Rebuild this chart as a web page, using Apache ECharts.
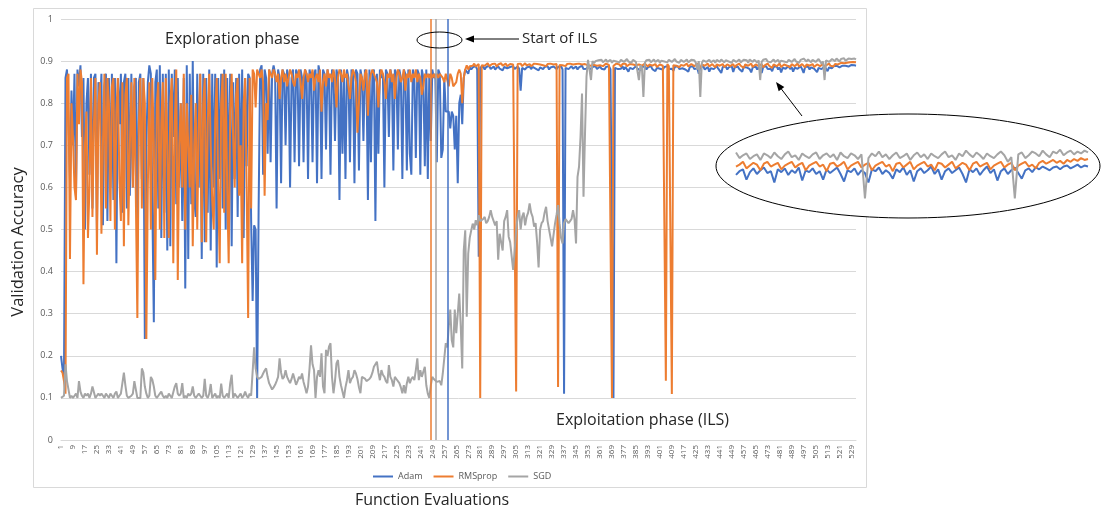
<!DOCTYPE html>
<html><head><meta charset="utf-8">
<script src="https://cdn.jsdelivr.net/npm/echarts@6/dist/echarts.min.js"></script>
<style>html,body{margin:0;padding:0;background:#fff}#c{width:1103px;height:508px}</style>
</head><body><div id="c"></div>
<script>
// Category labels: function evaluations 1..532
const categories = Array.from({length: 532}, (_, i) => String(i + 1));

// Validation accuracy, in percent
const adam = [
20,17,15,86,88,88,62,83,70,87,
58,88,84,89,72,86,50,80,86,63,
87,55,86,87,50,85,78,87,51,84,
87,52,86,60,87,57,86,42,86,75,
87,54,85,87,55,86,58,87,60,84,
86,45,85,87,62,86,24,70,85,89,
87,56,28,85,88,55,89,48,87,54,
87,45,88,46,87,72,88,56,86,60,
80,52,86,36,89,43,87,56,90,57,
53,87,60,87,43,87,47,86,54,88,
45,87,60,87,41,86,62,87,55,88,
50,86,58,87,46,85,62,86,53,87,
60,88,48,86,65,87,86,52,33,51,
50,10,55,88,
89,63,88,86,68,88,66,87,89,87,
55,88,86,61,88,87,70,88,86,60,
86,88,66,88,87,65,88,86,66,88,
87,62,88,86,66,87,88,61,89,87,
62,88,87,69,88,86,63,88,87,71,
88,86,57,88,68,87,62,88,86,66,
88,87,61,88,87,64,88,86,71,88,
87,57,88,66,87,88,52,87,68,88,
86,87,60,88,87,72,88,86,64,88,
87,69,88,86,62,88,87,64,88,68,
63,88,86,67,88,87,63,88,86,65,
88,62,87,71,88,86,87,66,88,87,
67,69,86,78,78,
78,74,78,77,69,77,61,80,82,75,86,88,88,87,
88.5,88,88.5,88.2,88.8,88,43.5,88.5,88.2,88.7,
88,88.6,88.3,88.9,88.1,88.5,88.7,88,88.4,88.8,
88.2,88.5,87.8,88.6,88.9,88.3,88,88.6,88.4,88.8,
88.1,88.5,88.7,88.2,83,88.4,88.8,88,88.5,88.3,
88.7,88.1,88.6,88.9,88.2,88.4,87.8,88.5,88.7,88.1,
88.6,88.3,88.8,88,88.5,88.2,88.7,88.4,88.1,88.6,
88.3,88.8,88,11,88.4,88.6,88.1,88.5,88.8,88.2,
88.4,88.7,88,88.5,88.3,88.9,88.1,88.5,88.2,88.7,
88.4,88,88.6,88.3,88.8,88.1,88.5,88.7,88.2,88.4,
88,88.6,88.3,88.8,88.1,88.5,10,88.4,88.7,88.1,
88.5,88.2,88.8,88,88.6,88.3,87.5,88.4,88.7,88.1,
88.5,88.8,88.2,88.4,87.8,88.6,88.3,88.7,88,88.5,
88.2,88.8,88.1,88.5,87.6,88.4,88.7,88.2,88.5,88,
88.6,88.3,88.8,88.1,88.5,88.2,87.7,88.6,88.3,88.8,
88.1,88.5,88.3,88.7,88,88.4,87.5,88.6,88.2,88.8,
88.1,88.5,88.3,87,88.6,88.2,88.7,88,88.4,88.6,
87.5,88.3,88.7,88.1,88.5,88.8,88.2,88.4,87.2,88.6,
88.3,88.7,88,88.5,88.2,88.8,87.4,88.5,88.3,88.7,
88.1,88.4,87.5,88.6,88.2,88.5,88.8,88.1,87.3,88.5,
88.3,88.7,88,88.5,88.2,87.2,88.6,88.4,88.8,88.1,
88.5,88.2,87.6,88.6,88.3,88.8,88,88.5,87.3,88.4,
88.7,88.2,88.5,88.9,88.1,88.6,87.5,88.4,88.7,88.2,
88.5,88.8,88.1,87.2,88.6,88.3,88.7,88,88.5,88.9,
88.2,88.6,87.4,88.4,88.7,88.1,88.5,88.8,88.2,87.6,
88.5,88.7,88.3,88.8,88.6,88.9,88.7,88.5,88.8,88.9,
88.6,88.9,89,88.7,88.9,89.1,88.8,89,88.9
];

const rmsprop = [
16.5,16,14,11,86,87,43,80,72,60,
57,87,75,88,85,37,70,78,48,60,
86,53,75,86,44,80,85,49,70,87,
55,86,80,52,84,86,50,78,86,62,
52,85,46,82,86,51,70,85,60,86,
86,29,75,86,55,86,80,24,60,85,
50,86,70,38,80,85,50,75,85,48,
86,70,48,80,86,42,75,88,38,70,
80,60,87,50,80,80,60,82,46,70,
80,50,75,87,47,80,86,47,75,87,
70,57,50,76,86,60,42,80,87,54,
87,60,42,78,87,72,60,82,86,58,
70,42,80,86,60,29,86,55,88,87,
79,
88,87,86,88,85,58,80,76,88,87,
86,88,87,85,87,81,86,88,85,87,
84,86,88,87,85,84,87,86,88,85,
81,86,88,87,85,87,86,88,83,86,
87,85,88,78,85,87,84,88,86,87,
85,88,86,79,86,88,87,85,88,86,
87,84,81,86,88,87,85,73,80,87,
86,83,87,88,77,85,87,88,88,86,
85,79,86,88,87,85,81,87,86,88,
85,87,81,86,88,87,85,86,88,83,
87,86,88,85,87,86,88,85,87,86,
82,84,87,86,87,86,87,86,87,86,
87,86,87,87,86,85,87,87,
84,87,86,84,84,85,87,88,87,80,86,88,89,88,
88.8,89.2,88.9,89.4,88.7,89.1,89.3,10,89,89.4,
88.9,89.2,89.5,88.8,89.1,89.3,89,89.4,88.7,89.2,
89,89.5,88.9,89.2,89.4,88.8,89.1,89.3,89,89.2,
88.9,11.5,89.3,89,89.4,88.8,89.2,89.5,89,89.1,
89.3,88.8,89.2,89.4,89,89.3,88.9,89.2,89.5,89,
89.2,88.8,89.3,89.1,89.4,89,89.2,88.9,89.3,12.6,
89.1,89.4,89,89.2,88.8,89.3,89.1,89.4,89,89.2,
88.9,89.3,89.1,89.4,89,89.2,88.8,89.3,89.5,89,
89.2,88.9,89.3,89.1,89.4,88.9,89.2,89,89.3,88.8,
89.2,89.4,89,89.1,89.3,10,88.9,89.2,89.4,89,
89.2,88.7,89.3,89,89.4,88.8,89.1,89.3,88.9,89.2,
89.4,89,88.6,89.2,89.3,88.9,89.1,89.4,89,88.7,
89.2,89.4,88.9,89.1,89.3,88.6,89,89.2,89.4,88.9,
89.1,14.1,89.3,88.8,89.2,10.9,89,89.4,88.9,89.2,
88.5,89.1,89.3,88.9,89.2,89.4,88.7,89,89.3,89.1,
88.8,89.2,89.4,89,88.4,89.2,89.3,88.9,89.1,89.4,
88.7,89,89.3,89.1,88.5,89.2,89.4,88.9,89.1,89.3,
88.6,89,89.2,89.4,88.8,89.1,89.3,88.5,89,89.2,
89.4,88.9,89.1,88.4,89.2,89.3,88.9,89.1,89.4,88.6,
89,89.2,89.4,88.8,89.1,89.3,88.5,89,89.2,89.4,
88.9,89.1,88.4,89.2,89.3,88.8,89.1,89.4,88.6,89,
89.2,89.4,88.9,89.1,88.5,89.3,89.2,88.8,89.1,89.4,
88.7,89,89.3,89.1,88.5,89.2,89.4,88.9,89.1,89.3,
88.6,89,89.2,89.4,88.8,89.1,89.3,88.5,89,89.2,
89.4,88.9,89.1,88.7,89.3,89.5,89.2,89.4,89.6,89.3,
89.5,89.2,89.6,89.4,89.7,89.5,89.8,89.6,89.7
];

const sgd = [
10,10,10.5,18,14,14,10,10.5,10,10.5,
11,10,14,11.5,10.5,10,11,10.5,11,10,
11,12.7,12.5,10,10.5,11,10.5,11,10.5,10,
11,10.5,10,11,10.5,10,11,11.5,10,10.5,
11,11,16,13,10.5,10,10,10.5,11,14,
13.8,10,10,10,17,16,12.7,11,10,10.5,
15,14.3,12.7,10.5,10,10.5,11,11.5,10.5,10,
10.5,10,11,10.5,10,10,12.7,13.5,11,10.5,
11,13.5,10,10.5,10,11,10.5,11,12.7,10.5,
10,10.5,11,10.5,10,10.5,14.5,10.5,10,11,
13.3,10,10.5,11,10,10.5,10,13.4,10.5,10,
10.5,11,10,13.4,15.5,10,11,10.5,10,10.5,
11,10,10.5,11.5,10.5,10,11,10.5,10.5,
22,17,15,14.5,14.2,15,15.8,16.5,17,15,
13.5,13.5,12,12.5,13.1,14,15,19.4,16,14.5,
15,16.6,15,14.2,13.5,14.5,15.8,14.5,13.1,14,
15,14.5,15.8,13.8,12.5,11.1,12.7,17,22.5,18,
16.6,10,15,16.6,15,20.6,12.7,11.1,21.4,20,
22.2,23,15,11.1,14,18.2,19,15,13,11.5,
10,12.5,14.2,16.6,13.5,14.5,15,16.6,15.8,14.5,
12.5,11.1,15,14.8,14.6,14,13.8,14.5,15,16,
17.4,17,18.6,16,14.2,16.6,15.5,15,14,13.5,
17.8,15,14.2,12.7,15,14.5,14.2,13.5,12.5,11.1,
13,11.1,13.5,15,13.5,14.5,15,14.2,16.6,19.4,
14.2,16.6,15,15,17.4,13,11,10,13,15,
14.5,14.2,13.8,13.5,14,13,15.8,16,23,22,
27,31,23.7,22,31,25.4,30,34.8,27,17,
45,49.8,29.3,44.3,48,49.8,51.4,50,52.2,51,
53.4,52,51.8,52.5,53,51.5,52,53,54.6,53,
52,51,52,42.8,49,47,45,52,53,54.6,
48.3,47,46.7,40.4,45,49.8,53,54.6,50,53,
54,51,53,54,56.2,54,53,50.7,51.5,47,
41,50,51.5,52,54,55.4,52,50,48,46,
45.9,51.5,53.5,55.8,51.5,48,46.7,51.5,52.5,52,
51.5,52,52.5,54.6,52.5,46.7,62.5,64.9,72,82.3,
57.8,72.8,86.3,90.3,88,85.5,90,89.5,
90,89.6,90.2,89.8,90.3,89.7,90.1,90.4,89.8,90,
90.3,89.6,90.1,90.4,89.9,90.2,89.7,90.3,90,89.8,
90.2,90.5,89.9,90.1,89.6,90.3,90,89.8,90.2,85.5,
89,88.5,81.5,89.6,90.2,89.9,90.3,89.7,90.1,90.4,
89.8,90,90.3,89.6,90.1,90.4,89.9,90.2,89.7,90.3,
90,89.8,90.2,90.5,89.9,90.1,89.6,90.3,90,89.8,
90.2,90.4,89.7,90.1,90.3,89.9,90.2,89.6,88,90,
81.5,89.5,90.2,90.4,89.8,90.1,90.3,89.7,90,90.2,
89.6,90.3,90.1,89.8,90.4,90,89.7,90.2,90.5,89.9,
90.1,89.6,90.3,90,89.8,90.2,90.4,89.7,90.1,90.3,
89.9,90.2,89.6,90.4,90,89.8,90.3,90.1,89.7,90.2,
85.5,89.8,90.3,90,90.5,89.9,90.2,89.7,90.1,90.4,
89.8,90,90.3,89.6,90.1,90.4,89.9,90.2,89.7,90.3,
90,89.8,90.2,90.5,89.9,90.1,89.6,90.3,90,90.6,
90.2,89.9,90.4,90.1,89.7,90.3,90,89.8,90.2,90.5,
90.1,89.4,89.9,85.5,90.2,90.4,89.8,90.1,90.5,90.3,
90,90.6,90.2,89.9,90.5,90.3,90.7,90.1,90.4,90.6,
90.2,90.5,90.3,90.6,90.4
];

const seriesNames = ['Adam', 'RMSprop', 'SGD'];
const seriesColors = ['#4472C4', '#ED7D31', '#A5A5A5'];
// Category at which each series' vertical marker line is drawn
const markerCategory = ['259', '248', '251'];
// First category index shown magnified in the inset
const insetStart = 430;

const allData = [adam, rmsprop, sgd].map(a => a.map(v => v / 100));

const FONT = '"Open Sans", "Noto Sans", sans-serif';
const chart = echarts.init(document.getElementById('c'), null, {renderer: 'canvas'});

const mainSeries = seriesNames.map((name, i) => ({
  name, type: 'line', xAxisIndex: 0, yAxisIndex: 0,
  data: allData[i], showSymbol: false, symbol: 'none',
  lineStyle: {width: 2, color: seriesColors[i]}, itemStyle: {color: seriesColors[i]},
  emphasis: {disabled: true}, z: 2,
  markLine: {
    silent: true, symbol: ['none', 'none'], label: {show: false},
    lineStyle: {color: seriesColors[i], width: 1.5, type: 'solid'},
    emphasis: {disabled: true},
    data: [{xAxis: markerCategory[i]}]
  }
}));
const insetSeries = seriesNames.map((name, i) => ({
  name, type: 'line', xAxisIndex: 1, yAxisIndex: 1,
  data: allData[i].slice(insetStart), showSymbol: false, symbol: 'none',
  lineStyle: {width: 2, color: seriesColors[i]}, itemStyle: {color: seriesColors[i]},
  emphasis: {disabled: true}, z: 10
}));

chart.setOption({
  animation: false,
  backgroundColor: '#fff',
  grid: [
    {left: 61, right: 247, top: 19, bottom: 68, containLabel: false, outerBoundsMode: 'none'},
    {left: 736, width: 352, top: 145, height: 58, containLabel: false, outerBoundsMode: 'none'}
  ],
  xAxis: [
    {type: 'category', gridIndex: 0, data: categories, boundaryGap: false,
     axisLine: {show: true, lineStyle: {color: '#d9d9d9', width: 1}},
     axisTick: {show: false},
     axisLabel: {interval: 7, rotate: 90, fontSize: 8, color: '#595959', margin: 5, fontFamily: FONT},
     splitLine: {show: false}},
    {type: 'category', gridIndex: 1, data: categories.slice(insetStart), boundaryGap: false, show: false}
  ],
  yAxis: [
    {type: 'value', gridIndex: 0, min: 0, max: 1, interval: 0.1,
     axisLine: {show: false}, axisTick: {show: false},
     axisLabel: {fontSize: 9, color: '#595959', margin: 8, fontFamily: FONT},
     splitLine: {show: true, lineStyle: {color: '#d9d9d9', width: 1}}},
    {type: 'value', gridIndex: 1, min: 0.85, max: 0.912, show: false, splitLine: {show: false}}
  ],
  legend: {
    data: seriesNames, left: 373, top: 472, padding: 0, icon: 'rect', itemWidth: 20, itemHeight: 2,
    itemGap: 11, textStyle: {fontSize: 9, color: '#595959', fontFamily: FONT}, selectedMode: false
  },
  tooltip: {show: false},
  series: mainSeries.concat(insetSeries),
  graphic: [
    {type: 'rect', silent: true, z: -10, shape: {x: 33.5, y: 8.5, width: 833, height: 479},
     style: {fill: 'none', stroke: '#d9d9d9', lineWidth: 1}},
    {type: 'text', silent: true, x: 165, y: 39, z: 20,
     style: {text: 'Exploration phase', font: '16px ' + FONT, fill: '#262626', align: 'left', verticalAlign: 'middle'}},
    {type: 'text', silent: true, x: 522, y: 39, z: 20,
     style: {text: 'Start of ILS', font: '15px ' + FONT, fill: '#262626', align: 'left', verticalAlign: 'middle'}},
    {type: 'text', silent: true, x: 556, y: 420, z: 20,
     style: {text: 'Exploitation phase (ILS)', font: '16px ' + FONT, fill: '#262626', align: 'left', verticalAlign: 'middle'}},
    {type: 'text', silent: true, x: 432, y: 500, z: 20,
     style: {text: 'Function Evaluations', font: '16px ' + FONT, fill: '#262626', align: 'center', verticalAlign: 'middle'}},
    {type: 'text', silent: true, x: 18.5, y: 242, rotation: Math.PI / 2, z: 20,
     style: {text: 'Validation Accuracy', font: '16.5px ' + FONT, fill: '#262626', align: 'center', verticalAlign: 'middle'}},
    {type: 'ellipse', silent: true, z: 20, shape: {cx: 439.5, cy: 40, rx: 22.5, ry: 8},
     style: {fill: 'none', stroke: '#000', lineWidth: 1}},
    {type: 'line', silent: true, z: 20, shape: {x1: 470, y1: 39, x2: 519, y2: 39},
     style: {stroke: '#000', lineWidth: 1}},
    {type: 'polygon', silent: true, z: 20, shape: {points: [[465, 39], [474, 35.5], [474, 42.5]]},
     style: {fill: '#000'}},
    {type: 'line', silent: true, z: 20, shape: {x1: 802, y1: 116, x2: 781, y2: 88.5},
     style: {stroke: '#000', lineWidth: 1}},
    {type: 'polygon', silent: true, z: 20, shape: {points: [[776, 82], [784.3, 87], [778.7, 91.2]]},
     style: {fill: '#000'}},
    {type: 'ellipse', silent: true, z: 5, shape: {cx: 908, cy: 166, rx: 192, ry: 52},
     style: {fill: '#fff', stroke: '#000', lineWidth: 1}}
  ]
});
</script>
</body></html>
